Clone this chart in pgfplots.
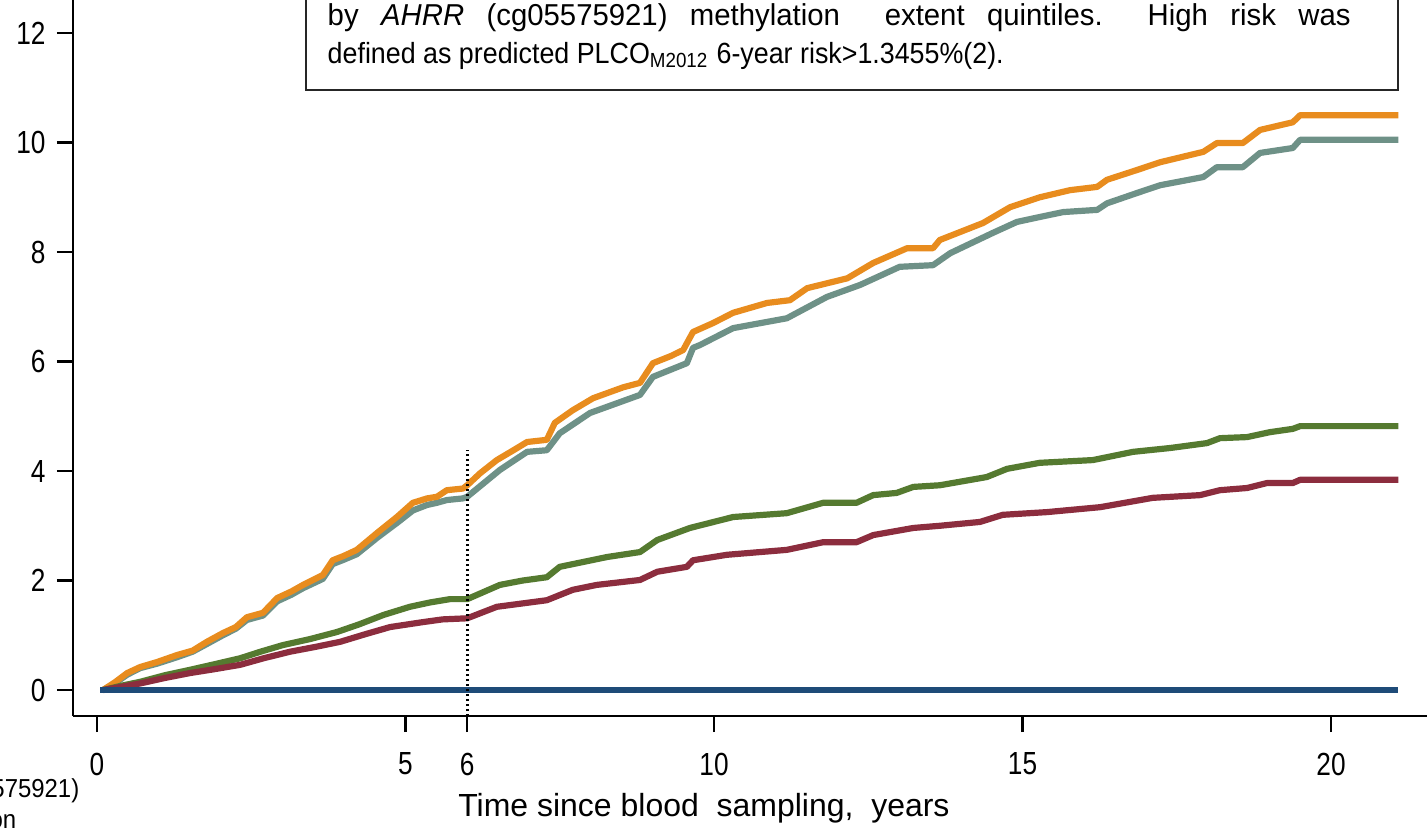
\documentclass[border=0pt]{standalone}
\usepackage{fontspec}
\setmainfont{Liberation Sans}[FakeStretch=0.82]
\newfontfamily\boxfont{Liberation Sans}[FakeStretch=0.92]
\newfontfamily\boxfontw{Liberation Sans}[FakeStretch=0.97]
\newfontfamily\labelfont{Liberation Sans}
\usepackage{pgfplots}
\pgfplotsset{compat=1.18}
\definecolor{cOrange}{RGB}{232,140,30}
\definecolor{cTeal}{RGB}{110,145,135}
\definecolor{cGreen}{RGB}{85,122,48}
\definecolor{cMaroon}{RGB}{140,45,62}
\definecolor{cBlue}{RGB}{30,75,120}
\begin{document}
\begin{tikzpicture}
\useasboundingbox (0mm,0mm) rectangle (142.7mm,82.7mm);
\clip (0mm,0mm) rectangle (142.7mm,82.7mm);
\begin{axis}[
  at={(7.3mm,11.1mm)}, anchor=south west,
  width=135.4mm, height=71.6mm, scale only axis,
  xmin=-0.389, xmax=21.556, ymin=-0.475, ymax=12.603,
  axis x line*=bottom, axis y line*=left,
  axis line style={line width=0.25mm, black},
  xtick={0,5,6,10,15,20}, ytick={0,2,4,6,8,10,12},
  tick align=outside, major tick length=1.6mm,
  tick style={line width=0.25mm, black},
  /pgf/number format/assume math mode=true,
  ticklabel style={font=\fontsize{9.1}{10}\selectfont},
  xticklabel style={anchor=center, yshift=-3.2mm},
  yticklabel style={anchor=east, xshift=0.1mm},
  xlabel={Time since blood\ \ sampling,\ \ years},
  xlabel style={at={(axis description cs:0.466,0)}, anchor=center, yshift=-9.2mm, font=\labelfont\fontsize{9.1}{10}\selectfont},
  clip=false,
]
\addplot[cTeal, line width=0.62mm, line join=round] coordinates {
(0.1,0) (0.3,0.13) (0.49,0.28) (0.7,0.40) (0.97,0.48) (1.3,0.60) (1.55,0.70) (1.78,0.84) (2.04,1.0) (2.25,1.12) (2.43,1.28) (2.69,1.36) (2.92,1.62) (3.15,1.74) (3.34,1.86) (3.66,2.03) (3.82,2.30) (4.0,2.38) (4.21,2.48) (4.54,2.78) (4.86,3.05) (5.12,3.28) (5.35,3.38) (5.51,3.42) (5.67,3.47) (5.93,3.50) (6.0,3.53) (6.53,4.02) (6.97,4.35) (7.29,4.38) (7.50,4.69) (7.99,5.06) (8.8,5.39) (9.01,5.72) (9.56,5.97) (9.66,6.25) (9.77,6.30) (10.31,6.61) (11.18,6.79) (11.83,7.18) (12.37,7.40) (13.01,7.73) (13.55,7.76) (13.83,7.98) (14.52,8.35) (14.91,8.55) (15.28,8.64) (15.66,8.73) (16.21,8.77) (16.37,8.89) (16.86,9.08) (17.23,9.22) (17.93,9.37) (18.15,9.55) (18.57,9.55) (18.85,9.81) (19.38,9.90) (19.50,10.05) (21.09,10.05)
};
\addplot[cOrange, line width=0.62mm, line join=round] coordinates {
(0.1,0) (0.3,0.15) (0.49,0.31) (0.7,0.42) (0.97,0.51) (1.3,0.64) (1.55,0.72) (1.78,0.88) (2.04,1.04) (2.25,1.15) (2.43,1.33) (2.69,1.41) (2.92,1.68) (3.15,1.80) (3.34,1.92) (3.66,2.10) (3.82,2.37) (4.0,2.45) (4.21,2.56) (4.54,2.87) (4.86,3.16) (5.12,3.42) (5.35,3.50) (5.51,3.53) (5.67,3.65) (5.93,3.68) (6.0,3.74) (6.21,3.96) (6.48,4.20) (6.75,4.38) (6.97,4.53) (7.29,4.57) (7.42,4.88) (7.71,5.11) (8.04,5.33) (8.53,5.53) (8.80,5.61) (9.01,5.97) (9.30,6.10) (9.50,6.21) (9.66,6.54) (9.98,6.70) (10.31,6.89) (10.86,7.07) (11.23,7.12) (11.51,7.34) (12.16,7.52) (12.58,7.80) (13.13,8.07) (13.55,8.07) (13.66,8.22) (14.36,8.53) (14.80,8.82) (15.28,9.00) (15.77,9.13) (16.21,9.19) (16.37,9.32) (16.86,9.50) (17.23,9.64) (17.93,9.83) (18.15,9.99) (18.57,9.99) (18.85,10.23) (19.38,10.37) (19.50,10.50) (21.09,10.50)
};
\addplot[cGreen, line width=0.62mm, line join=round] coordinates {
(0.1,0) (0.4,0.08) (0.70,0.15) (1.1,0.27) (1.51,0.37) (1.9,0.47) (2.32,0.58) (2.65,0.70) (3.01,0.82) (3.45,0.93) (3.89,1.06) (4.25,1.20) (4.64,1.37) (5.07,1.52) (5.40,1.60) (5.72,1.66) (6.0,1.66) (6.53,1.92) (6.9,2.00) (7.29,2.06) (7.50,2.25) (8.27,2.43) (8.80,2.52) (9.08,2.74) (9.61,2.96) (10.31,3.16) (11.18,3.23) (11.77,3.42) (12.31,3.42) (12.58,3.56) (12.96,3.60) (13.23,3.71) (13.66,3.74) (14.42,3.89) (14.75,4.04) (15.28,4.15) (16.14,4.20) (16.79,4.35) (17.39,4.42) (17.99,4.51) (18.20,4.60) (18.64,4.62) (19.01,4.71) (19.38,4.77) (19.50,4.82) (21.09,4.82)
};
\addplot[cMaroon, line width=0.62mm, line join=round] coordinates {
(0.1,0) (0.4,0.06) (0.70,0.12) (1.1,0.22) (1.51,0.31) (1.9,0.38) (2.32,0.46) (2.7,0.58) (3.13,0.70) (3.55,0.79) (3.94,0.88) (4.35,1.02) (4.75,1.15) (5.28,1.24) (5.60,1.29) (6.0,1.31) (6.48,1.52) (7.29,1.64) (7.71,1.83) (8.10,1.92) (8.80,2.01) (9.08,2.16) (9.56,2.25) (9.66,2.37) (10.21,2.47) (11.18,2.56) (11.77,2.70) (12.31,2.70) (12.58,2.83) (13.23,2.96) (13.66,3.00) (14.31,3.07) (14.68,3.20) (15.40,3.25) (16.26,3.34) (17.11,3.51) (17.88,3.56) (18.20,3.65) (18.64,3.69) (18.96,3.78) (19.38,3.78) (19.50,3.84) (21.09,3.84)
};
\addplot[cBlue, line width=0.62mm] coordinates {(0.05,0) (21.09,0)};
\addplot[black, line width=0.3mm, dash pattern=on 0.25mm off 0.25mm] coordinates {(6,-0.475) (6,4.38)};
\end{axis}
\draw[line width=0.2mm, black!85] (30.6mm,90mm) -- (30.6mm,73.7mm) -- (139.8mm,73.7mm) -- (139.8mm,90mm);
\node[anchor=base west, inner sep=0pt, font=\boxfontw\fontsize{8.6}{10}\selectfont] at (32.7mm,80.2mm)
  {\makebox[102.3mm][s]{by \textit{AHRR} (cg05575921) methylation \ extent quintiles.\ \ High risk was}};
\node[anchor=base west, inner sep=0pt, font=\boxfont\fontsize{8.3}{10}\selectfont] at (32.7mm,76.4mm)
  {defined as predicted PLCO\textsubscript{M2012} 6-year risk>1.3455\%(2).};
\node[anchor=base east, inner sep=0pt, font=\boxfont\fontsize{7.4}{9}\selectfont] at (8.0mm,3.0mm) {\textit{AHRR} (cg05575921)};
\node[anchor=base east, inner sep=0pt, font=\boxfont\fontsize{7.4}{9}\selectfont] at (1.7mm,-0.1mm) {methylation};
\end{tikzpicture}
\end{document}
